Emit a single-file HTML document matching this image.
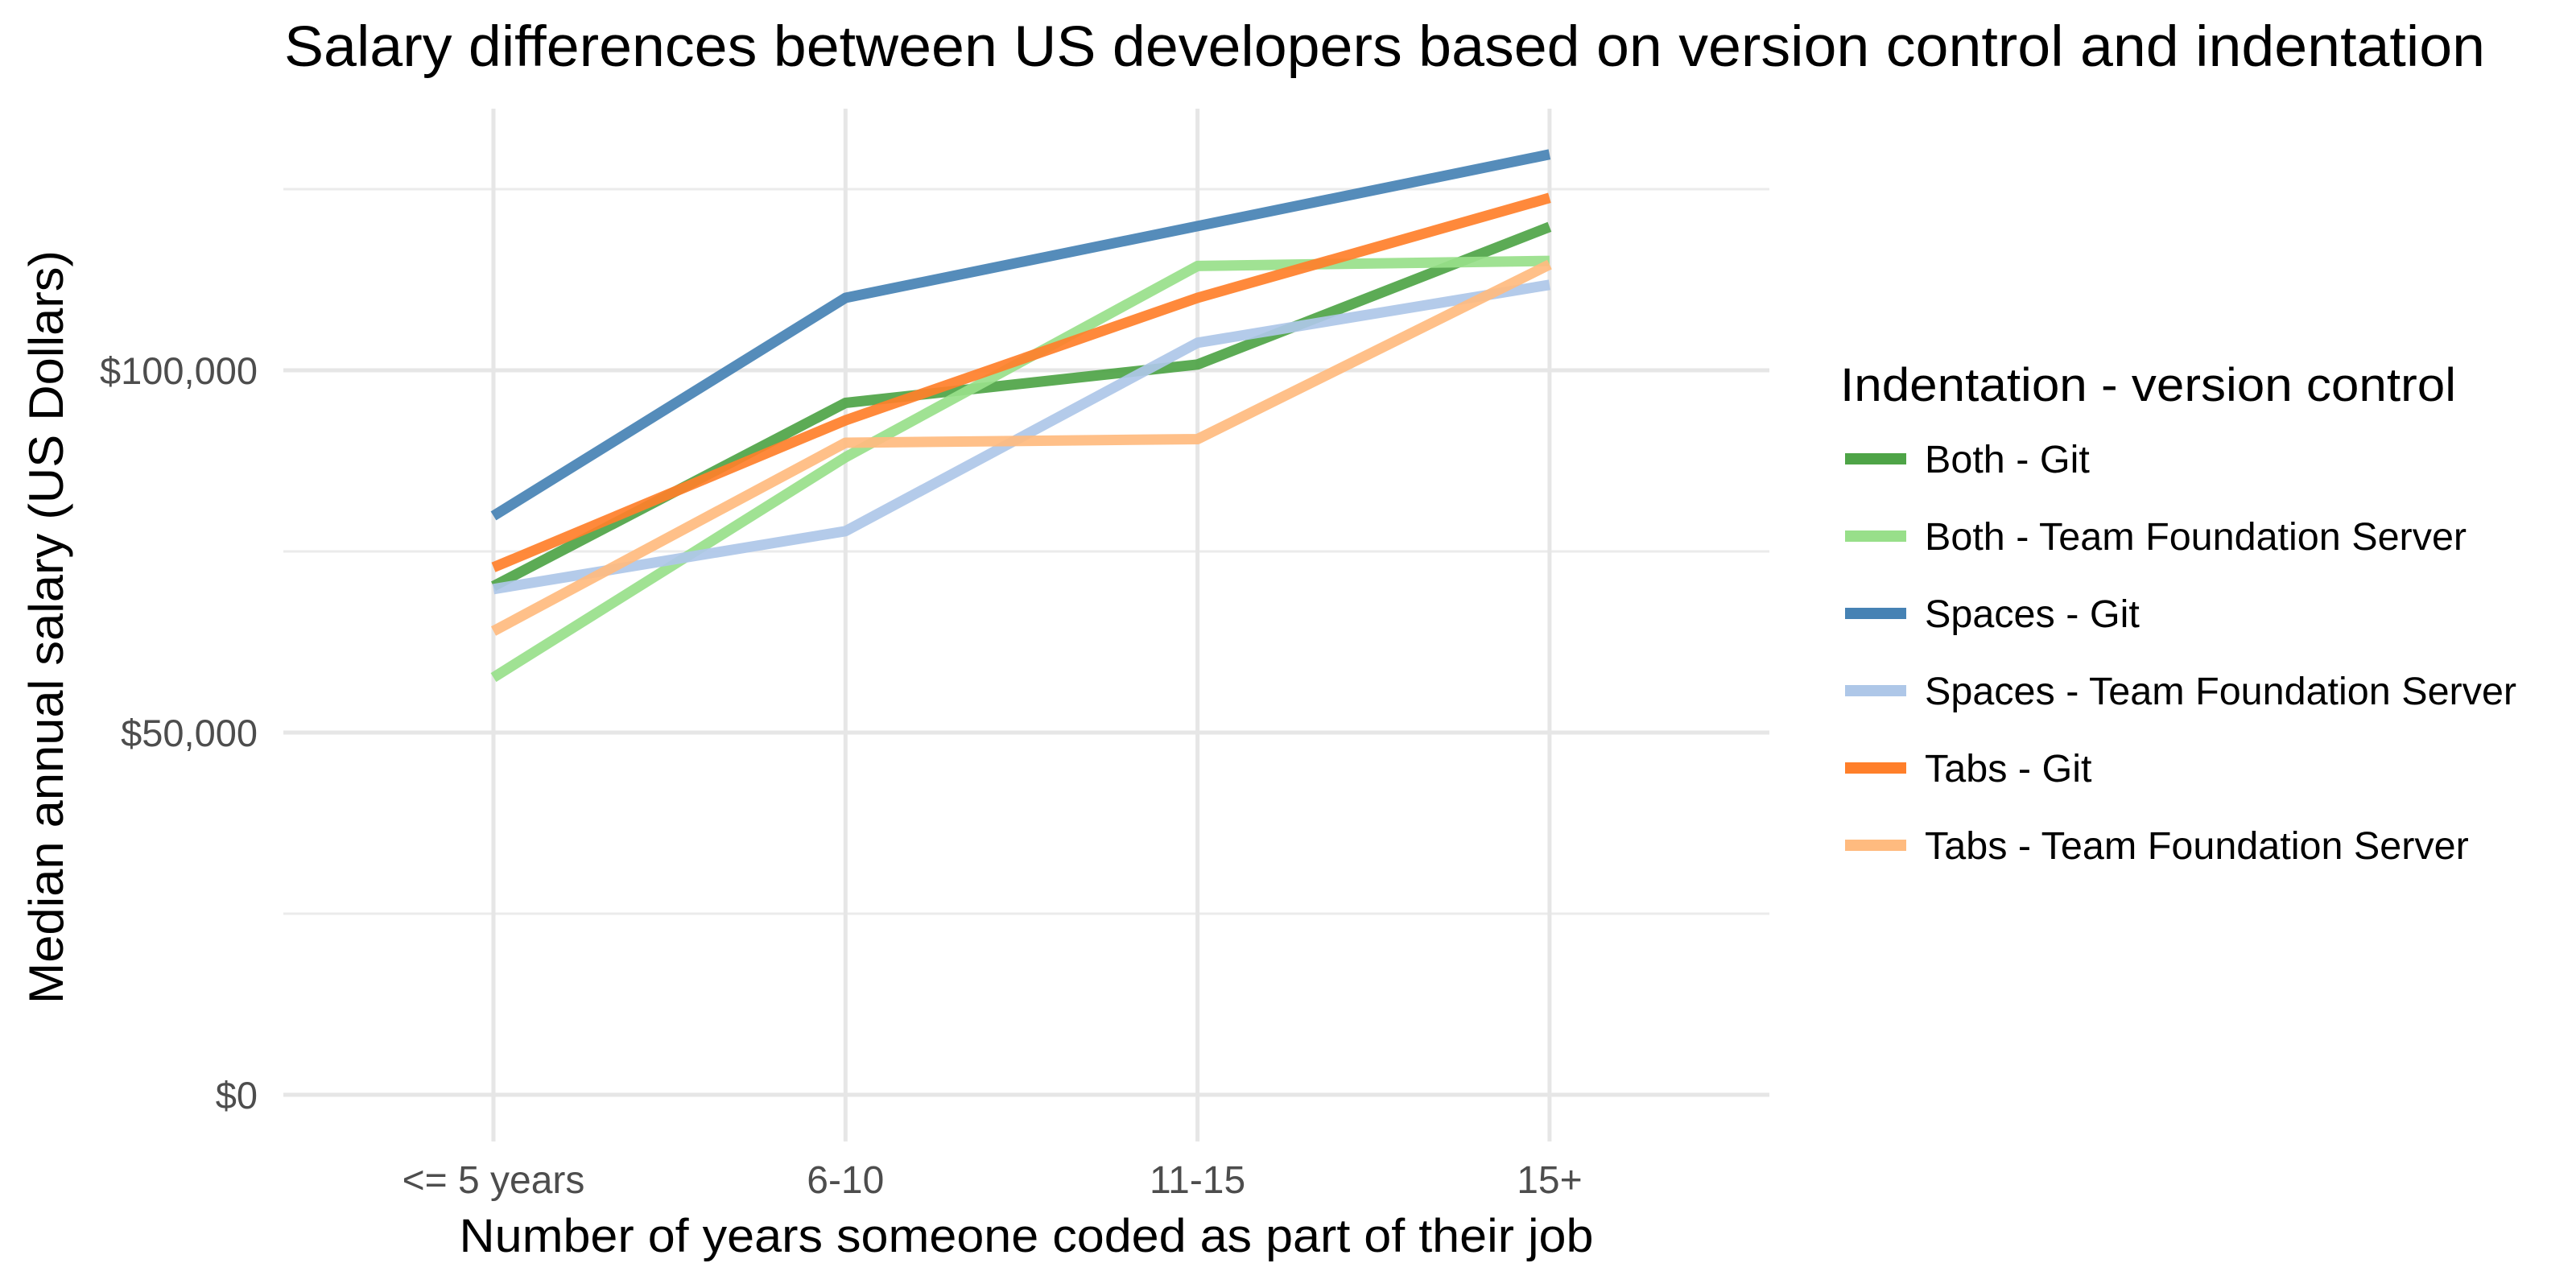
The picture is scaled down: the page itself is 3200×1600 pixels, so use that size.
<!DOCTYPE html>
<html><head><meta charset="utf-8"><style>
html,body{margin:0;padding:0;background:#fff}
svg{display:block;font-family:"Liberation Sans",Arial,sans-serif}
</style></head><body>
<svg id="chart" width="3200" height="1600" viewBox="0 0 3200 1600">
<rect width="3200" height="1600" fill="#fff"/>
<text x="353" y="82" font-size="71" fill="#000" textLength="2734" lengthAdjust="spacingAndGlyphs">Salary differences between US developers based on version control and indentation</text>
<g id="grid"></g>
<g id="lines"></g>
<g id="yticks"></g>
<g id="xticks"></g>
<text transform="translate(78,779) rotate(-90)" text-anchor="middle" font-size="60" fill="#000" textLength="936" lengthAdjust="spacingAndGlyphs">Median annual salary (US Dollars)</text>
<text x="1275" y="1555" text-anchor="middle" font-size="58" fill="#000" textLength="1409" lengthAdjust="spacingAndGlyphs">Number of years someone coded as part of their job</text>
<g id="legend">
<text x="2286" y="498" font-size="58" fill="#000" textLength="765" lengthAdjust="spacingAndGlyphs">Indentation - version control</text>
</g>
</svg>
<script>
const categories = ["<= 5 years", "6-10", "11-15", "15+"];
const seriesNames = ["Both - Git", "Both - Team Foundation Server", "Spaces - Git", "Spaces - Team Foundation Server", "Tabs - Git", "Tabs - Team Foundation Server"];
const bothGit = [70200, 95500, 100800, 119800];
const bothTfs = [57600, 88000, 114400, 115100];
const spacesGit = [79900, 110000, 119900, 129800];
const spacesTfs = [69800, 77800, 103800, 111800];
const tabsGit = [72800, 93100, 110000, 123800];
const tabsTfs = [64000, 90000, 90500, 114600];
const yTickValues = [0, 50000, 100000];
const yTickLabels = ["$0", "$50,000", "$100,000"];
const yMinorValues = [25000, 75000, 125000];

const seriesValues = [bothGit, bothTfs, spacesGit, spacesTfs, tabsGit, tabsTfs];
const colors = ["#4ea447", "#98df8a", "#4682b4", "#aec7e8", "#ff7f2a", "#ffbb7f"];
const NS = "http://www.w3.org/2000/svg";
const px0 = 352, px1 = 2198, py0 = 135, py1 = 1418;
function xScale(i){ return 613 + i * 437.3; }
function yScale(v){ return 1360 - v * 0.009; }
function mk(tag, attrs, parent){ const e = document.createElementNS(NS, tag); for (const k in attrs) e.setAttribute(k, attrs[k]); parent.appendChild(e); return e; }

const grid = document.getElementById('grid');
yMinorValues.forEach(v => {
  const l = mk('line', {x1: px0, x2: px1, y1: yScale(v), y2: yScale(v), stroke: '#ebebeb', 'stroke-width': 3}, grid);
  
  
});
yTickValues.forEach(v => {
  const l = mk('line', {x1: px0, x2: px1, y1: yScale(v), y2: yScale(v), stroke: '#e6e6e6', 'stroke-width': 5}, grid);
  
  
});
categories.forEach((c, i) => {
  const l = mk('line', {x1: xScale(i), x2: xScale(i), y1: py0, y2: py1, stroke: '#e6e6e6', 'stroke-width': 5}, grid);
  
  
});

const yt = document.getElementById('yticks');
yTickValues.forEach((v, i) => {
  const t = mk('text', {x: 320, y: yScale(v) + 17, 'text-anchor': 'end', 'font-size': 47, fill: '#4d4d4d'}, yt);
  t.textContent = yTickLabels[i];
  
  
});
const xt = document.getElementById('xticks');
categories.forEach((c, i) => {
  const t = mk('text', {x: xScale(i), y: 1482, 'text-anchor': 'middle', 'font-size': 48, fill: '#4d4d4d'}, xt);
  t.textContent = c;
  
  
});

const lg = document.getElementById('lines');
seriesValues.forEach((vals, s) => {
  const pts = vals.map((v, i) => xScale(i) + ',' + yScale(v)).join(' ');
  const p = mk('polyline', {points: pts, fill: 'none', stroke: colors[s], 'stroke-width': 13, 'stroke-opacity': 0.92, 'stroke-linejoin': 'round'}, lg);
  
  
});

const leg = document.getElementById('legend');
seriesNames.forEach((n, s) => {
  const cy = 570 + s * 96;
  const g = mk('g', {}, leg);
  
  
  const k = mk('line', {x1: 2292, x2: 2368, y1: cy, y2: cy, stroke: colors[s], 'stroke-width': 14}, g);
  
  
  const t = mk('text', {x: 2391, y: cy + 17, 'font-size': 48.5, fill: '#000'}, g);
  t.textContent = n;
  
  
});
</script>
</body></html>
